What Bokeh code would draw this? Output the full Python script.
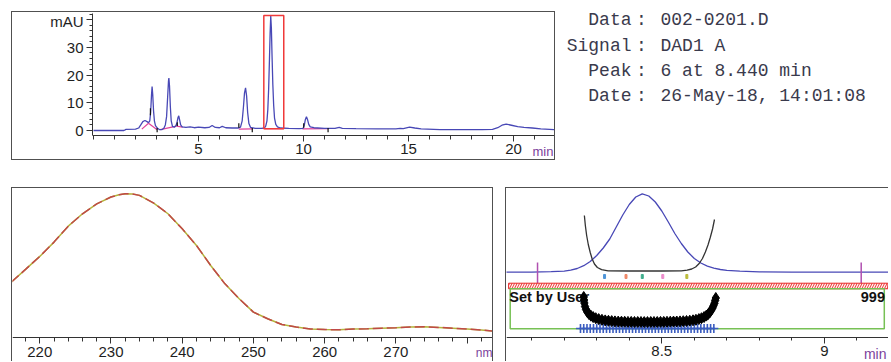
from bokeh.plotting import figure
from bokeh.layouts import column, row
from bokeh.models import FixedTicker, Label
from bokeh.embed import file_html
from bokeh.resources import INLINE
from bokeh.core.properties import value

# ---------------- data ----------------
# chromatogram (time in min, signal in mAU)
chrom_t = [0.0, 1.0, 1.45, 1.55, 2.0, 2.15, 2.25, 2.35, 2.45, 2.55, 2.62, 2.68, 2.72, 2.76, 2.79,
           2.82, 2.86, 2.90, 2.95, 3.05, 3.15, 3.25, 3.35, 3.42, 3.48, 3.53, 3.57, 3.59, 3.62, 3.66,
           3.70, 3.76, 3.85, 3.93, 3.98, 4.02, 4.06, 4.10, 4.15, 4.22, 4.4, 4.6, 4.8, 5.0, 5.3, 5.5,
           5.65, 5.8, 6.0, 6.13, 6.3, 6.6, 6.9, 7.0, 7.08, 7.14, 7.19, 7.24, 7.29, 7.34, 7.40, 7.48,
           7.7, 8.0, 8.14, 8.20, 8.26, 8.30, 8.34, 8.38, 8.41, 8.44, 8.47, 8.50, 8.54, 8.58, 8.62,
           8.68, 8.76, 8.9, 9.3, 9.8, 9.98, 10.04, 10.09, 10.14, 10.19, 10.25, 10.32, 10.5, 11.0,
           11.5, 11.7, 11.85, 12.5, 13.5, 14.4, 14.6, 14.75, 15.05, 15.3, 15.6, 16.5, 17.5, 18.5,
           19.0, 19.25, 19.45, 19.65, 19.9, 20.2, 20.5, 20.9, 21.3, 22.0]
chrom_v = [0.0, 0.0, 0.0, 0.4, 0.5, 0.9, 2.0, 3.2, 3.6, 3.2, 2.8, 3.5, 6.5, 12.5, 15.9,
           13.0, 7.0, 3.5, 1.8, 0.8, 0.3, 0.3, 0.8, 2.0, 5.0, 12.0, 17.8, 18.9, 16.0, 8.5,
           3.5, 1.5, 1.2, 1.8, 3.0, 4.6, 5.3, 3.8, 2.0, 1.3, 1.1, 1.3, 1.0, 1.2, 1.0, 1.1,
           1.8, 1.1, 1.0, 1.5, 1.0, 0.9, 0.9, 1.2, 3.5, 8.5, 13.5, 15.4, 12.5, 6.5, 2.5, 1.1,
           0.8, 0.8, 0.9, 1.6, 3.5, 7.5, 15.0, 26.0, 35.0, 41.3, 37.0, 27.5, 16.5, 9.0, 4.5,
           2.2, 1.3, 0.9, 0.8, 0.7, 0.8, 2.0, 4.0, 5.0, 4.0, 2.2, 1.3, 1.0, 0.8,
           0.8, 1.1, 0.8, 0.7, 0.6, 0.6, 0.8, 0.7, 1.2, 0.9, 0.6, 0.3, 0.3, 0.3,
           0.4, 1.0, 1.9, 2.3, 1.9, 1.4, 1.1, 0.9, 0.6, 0.3]

# integration baselines
bl_t0 = [2.30, 2.62, 3.18, 3.95, 6.92, 8.13, 9.95]
bl_v0 = [0.5, 2.6, 0.3, 1.6, 0.5, 0.7, 0.6]
bl_t1 = [2.62, 3.03, 3.95, 4.25, 7.58, 9.05, 11.17]
bl_v1 = [2.6, 0.3, 1.6, 1.2, 0.6, 0.7, 0.7]

# integration event marks
mark_t = [2.71, 3.03, 3.99, 6.92, 7.56, 10.01, 11.17]
mark_v0 = [5.5, -0.6, 1.6, 1.0, -0.6, 1.0, -0.6]
mark_v1 = [8.0, 0.9, 3.0, 2.6, 0.9, 2.6, 0.9]

# selected peak window
sel_left, sel_right, sel_bottom, sel_top = 8.11, 9.06, 0.6, 41.5

# UV spectrum (nm, relative absorbance)
spec_nm = [216, 218, 220, 222, 224, 226, 228, 230, 231, 232, 233, 234, 236, 238, 240, 242, 244,
           246, 248, 250, 252, 254, 256, 258, 260, 262, 264, 266, 268, 270, 272, 274, 276, 278,
           280, 282, 284]
spec_v = [36.9, 45.4, 54.0, 63.5, 74.1, 82.3, 88.9, 93.4, 94.8, 95.6, 95.5, 94.5, 89.4, 82.3,
          72.3, 61.3, 48.0, 35.8, 25.9, 17.0, 12.6, 8.8, 7.1, 5.8, 5.5, 5.3, 5.8, 6.0, 6.4, 6.6,
          7.1, 7.3, 6.9, 6.4, 5.8, 5.1, 4.4]

# peak purity panel
peak_t = [8.02, 8.10, 8.16, 8.20, 8.22, 8.24, 8.26, 8.28, 8.30, 8.32, 8.34, 8.36, 8.38, 8.40,
          8.42, 8.44, 8.46, 8.48, 8.50, 8.52, 8.54, 8.56, 8.58, 8.60, 8.62, 8.64, 8.66, 8.68,
          8.70, 8.74, 8.80, 8.90, 9.20]
peak_v = [65.3, 65.4, 65.8, 66.4, 67.4, 69.0, 71.8, 76.0, 82.0, 89.5, 98.5, 110.5, 122.5, 133.0,
          140.5, 143.7, 141.5, 135.5, 126.5, 115.5, 104.0, 94.0, 85.5, 79.0, 74.5, 71.3, 69.3,
          68.0, 67.2, 66.3, 65.7, 65.4, 65.3]

thr_t = [8.262, 8.265, 8.269, 8.274, 8.280, 8.286, 8.293, 8.302, 8.315, 8.335, 8.40, 8.50, 8.56,
         8.578, 8.592, 8.604, 8.615, 8.625, 8.634, 8.642, 8.649, 8.656, 8.662]
thr_v = [122.0, 112.0, 102.0, 93.0, 85.0, 78.5, 73.5, 70.0, 67.8, 66.7, 66.5, 66.5, 66.7,
         67.3, 68.5, 70.5, 74.0, 79.0, 85.5, 92.5, 100.0, 108.5, 118.0]

limit_t = [8.118, 9.113]
limit_v0 = [54.0, 54.0]
limit_v1 = [75.0, 75.0]

spot_t = [8.324, 8.390, 8.440, 8.503, 8.577]
spot_v = [61.0, 61.0, 61.0, 61.0, 61.0]
spot_colors = ["#4f95d8", "#f08a6a", "#3fae8c", "#ec8ccc", "#bcbc3c"]

band_left, band_right, band_bottom, band_top = 8.029, 9.195, 48.7, 54.3
box_left, box_right, box_bottom, box_top = 8.034, 9.184, 8.7, 48.7

pur_t = [8.260, 8.261, 8.262, 8.264, 8.267, 8.271, 8.276, 8.282, 8.289, 8.297,
         8.306, 8.316, 8.326, 8.336, 8.346, 8.356, 8.366, 8.376, 8.386, 8.396,
         8.406, 8.416, 8.426, 8.436, 8.446, 8.456, 8.466, 8.476, 8.486, 8.496,
         8.506, 8.516, 8.526, 8.536, 8.546, 8.556, 8.566, 8.576, 8.586, 8.596,
         8.605, 8.614, 8.622, 8.630, 8.637, 8.643, 8.648, 8.652, 8.656, 8.659,
         8.662, 8.664, 8.666]
pur_v = [40.5, 37.5, 34.5, 31.0, 28.0, 25.5, 23.5, 21.8, 20.4, 19.3,
         18.4, 17.7, 17.1, 16.7, 16.4, 16.1, 15.9, 15.8, 15.7, 15.6,
         15.6, 15.5, 15.5, 15.5, 15.4, 15.4, 15.5, 15.5, 15.5, 15.6,
         15.6, 15.7, 15.8, 15.9, 16.0, 16.1, 16.3, 16.5, 16.8, 17.2,
         17.7, 18.4, 19.3, 20.5, 21.9, 23.5, 25.3, 27.3, 29.5, 31.8,
         34.3, 37.0, 39.5]

cross_t = [8.250, 8.260, 8.270, 8.280, 8.290, 8.300, 8.310, 8.320, 8.330, 8.340, 8.350, 8.360,
           8.370, 8.380, 8.390, 8.400, 8.410, 8.420, 8.430, 8.440, 8.450, 8.460, 8.470, 8.480,
           8.490, 8.500, 8.510, 8.520, 8.530, 8.540, 8.550, 8.560, 8.570, 8.580, 8.590, 8.600,
           8.610, 8.620, 8.630, 8.640, 8.650, 8.660]
cross_v = [9.0] * len(cross_t)

info_labels = ["Data", "Signal", "Peak", "Date"]
info_values = ["002-0201.D", "DAD1 A", "6 at 8.440 min", "26-May-18, 14:01:08"]

BORDER = "1px solid #505050"
AX = "#333333"
LBL = "#1e1e1e"
PURPLE = "#7b3f9c"
SANS = "Liberation Sans"


def style_axis(ax, size):
    ax.axis_line_color = AX
    ax.major_tick_line_color = AX
    ax.minor_tick_line_color = AX
    ax.major_tick_in = 0
    ax.minor_tick_in = 0
    ax.major_label_text_font = SANS
    ax.major_label_text_font_size = size
    ax.major_label_text_color = LBL


# ---------------- top chromatogram ----------------
# frame covers the tick-label strip too; the x axis sits at a fixed y inside it
p1 = figure(width=544, height=149, x_range=(-0.048, 22.0), y_range=(-11.19, 42.24),
            output_backend="svg", toolbar_location=None,
            min_border_left=80, min_border_right=1, min_border_top=1, min_border_bottom=0)
p1.margin = (11, 0, 0, 11)
p1.styles = {"border": BORDER}
p1.outline_line_color = None
p1.grid.visible = False
p1.xaxis.fixed_location = -1.805
p1.yaxis.bounds = (-1.805, 42.24)
p1.xaxis.ticker = FixedTicker(ticks=[5, 10, 15, 20], minor_ticks=list(range(0, 23)))
p1.yaxis.ticker = FixedTicker(ticks=[0, 10, 20, 30, 40], minor_ticks=list(range(0, 43, 2)))
p1.yaxis.major_label_overrides = {40: "mAU"}
style_axis(p1.xaxis[0], "15px")
style_axis(p1.yaxis[0], "15px")
p1.xaxis.major_tick_out = 6
p1.xaxis.minor_tick_out = 4
p1.xaxis.major_label_standoff = 2
p1.yaxis.major_tick_out = 6
p1.yaxis.minor_tick_out = 3
p1.yaxis.major_label_standoff = 3

p1.segment(bl_t0, bl_v0, bl_t1, bl_v1, color="#e0409a", line_width=1.2)
p1.line(chrom_t, chrom_v, color="#4848b6", line_width=1.3)
p1.segment(mark_t, mark_v0, mark_t, mark_v1, color="#111111", line_width=1.2)
p1.quad(left=[sel_left], right=[sel_right], bottom=[sel_bottom], top=[sel_top],
        fill_color=None, line_color="#f03a3a", line_width=1.5)
p1.add_layout(Label(x=21.4, y=-7.6, text="min", text_color=PURPLE, text_font=SANS,
                    text_font_size="13px", text_align="center", text_baseline="middle"))

# ---------------- info text ----------------
pt = figure(width=334, height=162, x_range=(557, 891), y_range=(162, 0),
            output_backend="svg", toolbar_location=None, min_border=0)
pt.axis.visible = False
pt.grid.visible = False
pt.outline_line_color = None
rows_y = [19, 44.5, 70, 95]
font = value("Liberation Mono")
pt.text(x=[633] * 4, y=rows_y, text=info_labels, text_font=font, text_font_size="18px",
        text_color="#3a3a4c", text_align="right", text_baseline="middle")
pt.text(x=[643] * 4, y=rows_y, text=[":"] * 4, text_font=font, text_font_size="18px",
        text_color="#3a3a4c", text_align="center", text_baseline="middle")
pt.text(x=[662] * 4, y=rows_y, text=info_values, text_font=font, text_font_size="18px",
        text_color="#3a3a4c", text_align="left", text_baseline="middle")

# ---------------- spectrum ----------------
p2 = figure(width=482, height=174, x_range=(216.17, 283.85), y_range=(-16.4, 99.07),
            output_backend="svg", toolbar_location=None, y_axis_location=None,
            min_border_left=0, min_border_right=0, min_border_top=0, min_border_bottom=0)
p2.margin = (25, 0, 0, 11)
p2.styles = {"border-left": BORDER, "border-top": BORDER, "border-right": BORDER}
p2.outline_line_color = None
p2.grid.visible = False
p2.xaxis.fixed_location = 0.2
p2.xaxis.ticker = FixedTicker(ticks=[220, 230, 240, 250, 260, 270, 280],
                              minor_ticks=list(range(216, 285, 2)))
p2.xaxis.major_label_overrides = {280: ""}
style_axis(p2.xaxis[0], "15px")
p2.xaxis.major_tick_out = 6
p2.xaxis.minor_tick_out = 4
p2.xaxis.major_label_standoff = 4
p2.line(spec_nm, spec_v, color="#b4b43c", line_width=1.5)
p2.line(spec_nm, spec_v, color="#c04848", line_width=1.5, line_dash="10 4")
p2.add_layout(Label(x=282.4, y=-10.2, text="nm", text_color=PURPLE, text_font=SANS,
                    text_font_size="12px", text_align="center", text_baseline="middle"))

# ---------------- peak purity ----------------
p3 = figure(width=383, height=174, x_range=(8.0226, 9.2), y_range=(-25, 149),
            output_backend="svg", toolbar_location=None, y_axis_location=None,
            min_border_left=0, min_border_right=0, min_border_top=0, min_border_bottom=0)
p3.margin = (25, 0, 0, 12)
p3.styles = {"border-left": BORDER, "border-top": BORDER}
p3.outline_line_color = None
p3.grid.visible = False
p3.xaxis.fixed_location = 0
p3.xaxis.ticker = FixedTicker(ticks=[8.5, 9.0],
                              minor_ticks=[8.1, 8.2, 8.3, 8.4, 8.5, 8.6, 8.7, 8.8, 8.9, 9.0, 9.1, 9.2])
p3.xaxis.major_label_overrides = {8.5: "8.5", 9: "9"}
style_axis(p3.xaxis[0], "15px")
p3.xaxis.major_tick_out = 6
p3.xaxis.minor_tick_out = 3
p3.xaxis.major_label_standoff = 2

p3.line(peak_t, peak_v, color="#4848b6", line_width=1.3)
p3.line(thr_t, thr_v, color="#333333", line_width=1.3)
p3.segment(limit_t, limit_v0, limit_t, limit_v1, color="#b050b0", line_width=1.5)
p3.rect(x=spot_t, y=spot_v, width=2, height=4, width_units="screen", height_units="screen",
        color=spot_colors)
p3.quad(left=[band_left], right=[band_right], bottom=[band_bottom], top=[band_top],
        fill_color="#f04848", line_color="#e83030", line_width=1,
        hatch_pattern="/", hatch_color="white", hatch_scale=5, hatch_weight=1.2)
p3.quad(left=[box_left], right=[box_right], bottom=[box_bottom], top=[box_top],
        fill_color=None, line_color="#77c155", line_width=1.5)
p3.text(x=[8.031], y=[40.5], text=["Set by User"], text_font=value(SANS), text_font_style="bold",
        text_font_size="14.5px", text_color="#111111", text_align="left", text_baseline="middle")
p3.text(x=[9.186], y=[40.5], text=["999"], text_font=value(SANS), text_font_style="bold",
        text_font_size="14.5px", text_color="#111111", text_align="right", text_baseline="middle")
p3.scatter(cross_t, cross_v, marker="cross", size=9, color="#3a5cc0", line_width=1.6)
p3.scatter(pur_t, pur_v, marker="diamond", size=11, color="#000000")
p3.add_layout(Label(x=9.156, y=-16, text="min", text_color=PURPLE, text_font=SANS,
                    text_font_size="14px", text_align="center", text_baseline="middle"))

layout = column(row(p1, pt), row(p2, p3))
open("out.html", "w").write(file_html(layout, INLINE))
